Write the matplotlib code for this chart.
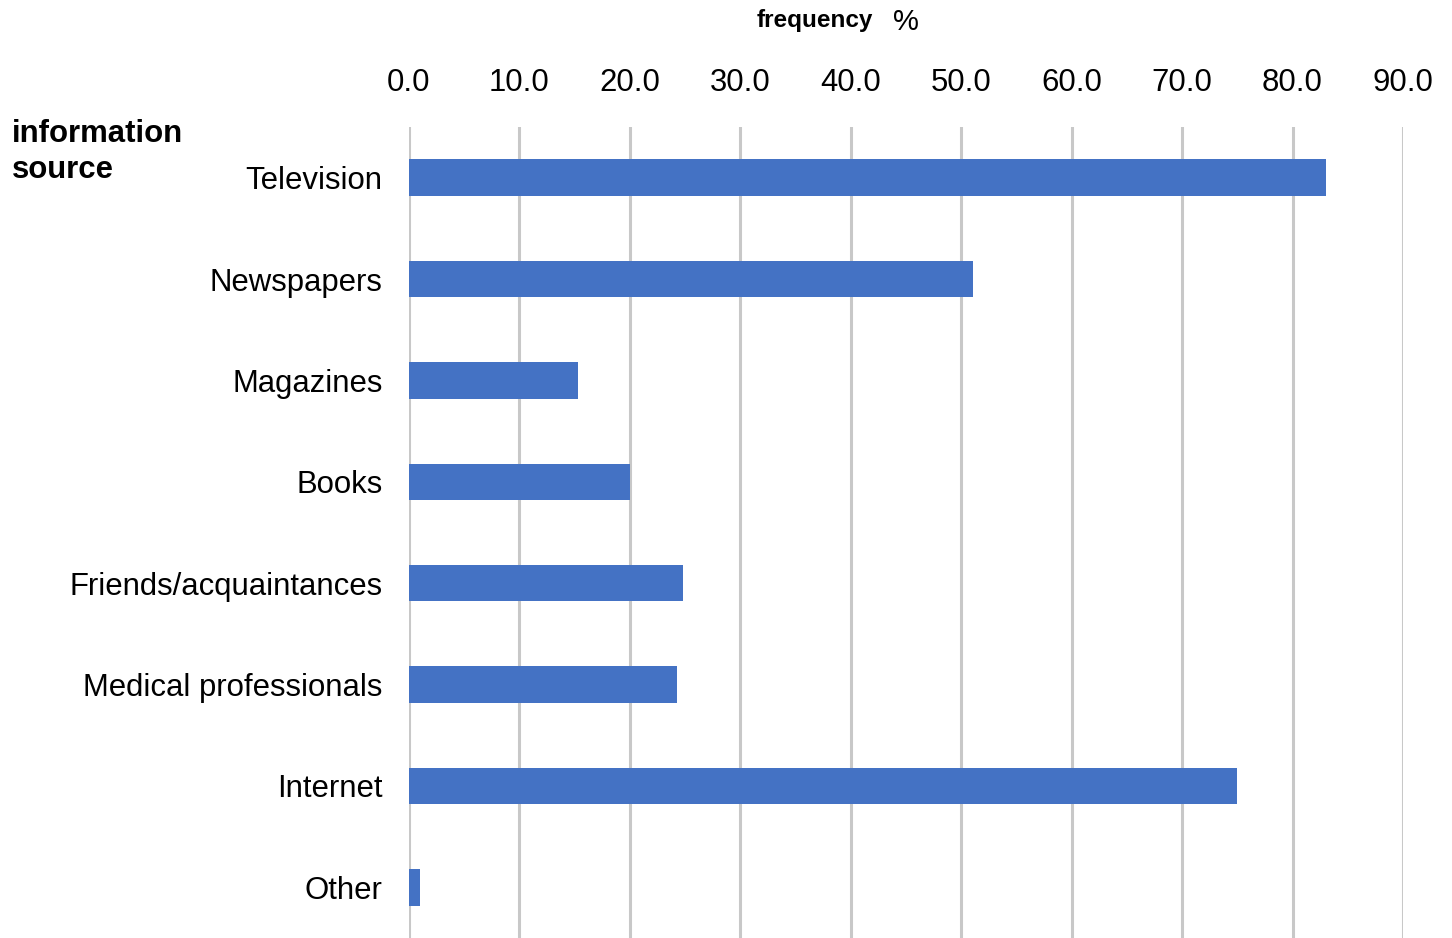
import matplotlib.pyplot as plt
import numpy as np

plt.rcParams['font.family'] = ['Liberation Sans', 'DejaVu Sans']

categories = ['Television', 'Newspapers', 'Magazines', 'Books',
              'Friends/acquaintances', 'Medical professionals', 'Internet', 'Other']
values = [83.0, 51.1, 15.3, 20.0, 24.8, 24.3, 75.0, 1.0]
xticks = np.arange(0, 100, 10)

fig = plt.figure(figsize=(14.52, 9.38), dpi=100)
ax = fig.add_axes([409 / 1452, 0, (1403 - 409) / 1452, (938 - 127) / 938])

y = np.arange(len(categories))
ax.barh(y, values, height=0.36, color='#4472C4', zorder=3)
ax.set_ylim(len(categories) - 0.5, -0.5)
ax.set_xlim(0, 90)

ax.set_yticks(y)
ax.set_yticklabels(categories, fontsize=22.4)
ax.set_xticks(xticks)
ax.set_xticklabels([f'{v:.1f}' for v in xticks], fontsize=22.4)
ax.xaxis.tick_top()
ax.tick_params(axis='x', length=0, pad=21)
ax.tick_params(axis='y', length=0, pad=19)

ax.grid(axis='x', color='#c8c8c8', linewidth=2.2, zorder=0)
for s in ax.spines.values():
    s.set_visible(False)

fig.text(12 / 1452, 1 - 152 / 938, 'information\nsource', fontsize=22.4,
         fontweight='bold', ha='left', va='center', linespacing=1.25)
fig.text(873 / 1452, 1 - 20 / 938, 'frequency', fontsize=17.5,
         fontweight='bold', ha='right', va='center')
fig.text(893 / 1452, 1 - 22 / 938, '%', fontsize=21, ha='left', va='center')

fig.savefig('out.png', dpi=100)
